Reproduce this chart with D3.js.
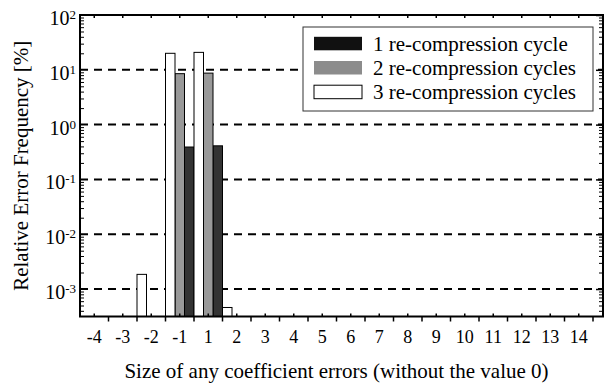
<!DOCTYPE html>
<html>
<head>
<meta charset="utf-8">
<script src="https://cdn.jsdelivr.net/npm/d3@7"></script>
<style>
  body { margin: 0; background: #fff; }
  svg text { font-family: "Liberation Serif", "Times New Roman", serif; fill: #000; }
</style>
</head>
<body>
<div class="chart"></div>
<script>
var svgWidth = 607;
var svgHeight = 383;

// chart values
var categories = ["-4", "-3", "-2", "-1", "1", "2", "3", "4", "5", "6", "7", "8", "9", "10", "11", "12", "13", "14"];
var cycle1 = [0, 0, 0, 0.39, 0.41, 0, 0, 0, 0, 0, 0, 0, 0, 0, 0, 0, 0, 0];
var cycle2 = [0, 0, 0, 8.5, 8.7, 0, 0, 0, 0, 0, 0, 0, 0, 0, 0, 0, 0, 0];
var cycle3 = [0, 0, 0.00185, 20, 20.8, 0.00046, 0, 0, 0, 0, 0, 0, 0, 0, 0, 0, 0, 0];
var seriesNames = ["1 re-compression cycle", "2 re-compression cycles", "3 re-compression cycles"];
var decades = [1e-3, 1e-2, 1e-1, 1, 10, 100];
var decadeExp = ["-3", "-2", "-1", "0", "1", "2"];

var series = [cycle1, cycle2, cycle3];
var fills = ["#333333", "#999999", "#ffffff"];
var legendFills = ["#111111", "#8c8c8c", "#ffffff"];

var plot = { left: 80, top: 15, right: 603, bottom: 316.5 };
var bandEnd = 593;

var svg = d3.select(".chart")
    .append("svg")
    .attr("width", svgWidth)
    .attr("height", svgHeight);

var x = d3.scaleBand()
    .domain(categories)
    .range([plot.left, bandEnd])
    .padding(0);

// series 3 sits left in each group, series 1 right
var xs = d3.scaleBand()
    .domain([2, 1, 0])
    .range([0, x.bandwidth()]);

var y = d3.scaleLog()
    .domain([3.15e-4, 100])
    .range([plot.bottom, plot.top]);

// minor log ticks
var minor = [];
for (var e = -4; e <= 1; e++) {
  for (var m = 2; m <= 9; m++) {
    var v = m * Math.pow(10, e);
    if (v >= y.domain()[0] && v <= 100) minor.push(v);
  }
}

// dashed grid
svg.append("g")
    .selectAll("line")
    .data(decades.filter(function(d) { return d < 100; }))
    .enter()
    .append("line")
    .attr("x1", plot.left)
    .attr("x2", plot.right)
    .attr("y1", function(d) { return y(d); })
    .attr("y2", function(d) { return y(d); })
    .attr("stroke", "#000")
    .attr("stroke-width", 2)
    .attr("stroke-dasharray", "8,6");

// bars
var barData = [];
series.forEach(function(s, si) {
  s.forEach(function(v, ci) {
    if (v > 0) barData.push({ s: si, cat: categories[ci], v: v });
  });
});

svg.append("g")
    .selectAll("rect")
    .data(barData)
    .enter()
    .append("rect")
    .attr("x", function(d) { return x(d.cat) + xs(d.s); })
    .attr("width", xs.bandwidth())
    .attr("y", function(d) { return y(d.v); })
    .attr("height", function(d) { return plot.bottom - y(d.v); })
    .attr("fill", function(d) { return fills[d.s]; })
    .attr("stroke", "#000")
    .attr("stroke-width", 1);

// bottom axis: inward ticks at centres, labels
var xAxis = d3.axisBottom(x).tickSize(-3).tickSizeOuter(0).tickPadding(14);
var gx = svg.append("g")
    .attr("transform", "translate(0," + plot.bottom + ")")
    .call(xAxis);
gx.select(".domain").remove();
gx.selectAll("line").attr("stroke-width", 1.5);
gx.selectAll("text")
    .style("font-size", "18px")
    .style("font-family", "'Liberation Serif', 'Times New Roman', serif");

// outward ticks on category boundaries
var bounds = categories.map(function(c) { return x(c); }).concat([bandEnd]).slice(1);
svg.append("g")
    .selectAll("line")
    .data(bounds)
    .enter()
    .append("line")
    .attr("x1", function(d) { return d; })
    .attr("x2", function(d) { return d; })
    .attr("y1", plot.bottom)
    .attr("y2", plot.bottom + 5)
    .attr("stroke", "#000")
    .attr("stroke-width", 1.5);

// top axis: inward ticks
var gt = svg.append("g")
    .attr("transform", "translate(0," + plot.top + ")")
    .call(d3.axisTop(x).tickSize(-3).tickSizeOuter(0).tickFormat(""));
gt.select(".domain").remove();
gt.selectAll("line").attr("stroke-width", 1.5);

// left axis ticks
var gl = svg.append("g")
    .attr("transform", "translate(" + plot.left + ",0)")
    .call(d3.axisLeft(y).tickValues(minor).tickSize(-4).tickFormat(""));
gl.select(".domain").remove();

// right axis ticks
var gr1 = svg.append("g")
    .attr("transform", "translate(" + plot.right + ",0)")
    .call(d3.axisRight(y).tickValues(minor).tickSize(-4).tickFormat(""));
gr1.select(".domain").remove();
var gr2 = svg.append("g")
    .attr("transform", "translate(" + plot.right + ",0)")
    .call(d3.axisRight(y).tickValues(decades).tickSize(-7).tickFormat(""));
gr2.select(".domain").remove();
gr2.selectAll("line").attr("stroke-width", 1.5);

// y labels 10^n
var yl = svg.append("g")
    .selectAll("text")
    .data(decades)
    .enter()
    .append("text")
    .attr("x", 76)
    .attr("y", function(d) { return y(d) + 10; })
    .attr("text-anchor", "end")
    .style("font-size", "20px");
yl.append("tspan").text("10");
yl.append("tspan")
    .attr("dy", -6)
    .style("font-size", "13px")
    .text(function(d, i) { return decadeExp[i]; });

// frame
svg.append("rect")
    .attr("x", plot.left)
    .attr("y", plot.top)
    .attr("width", plot.right - plot.left)
    .attr("height", plot.bottom - plot.top)
    .attr("fill", "none")
    .attr("stroke", "#000")
    .attr("stroke-width", 2);

// legend
var legend = svg.append("g").attr("transform", "translate(303,27)");
legend.append("rect")
    .attr("width", 290)
    .attr("height", 84)
    .attr("fill", "#fff")
    .attr("stroke", "#333")
    .attr("stroke-width", 1);
seriesNames.forEach(function(name, i) {
  var row = legend.append("g").attr("transform", "translate(0," + (23.8 + i * 24.2) + ")");
  row.append("rect")
      .attr("x", 11)
      .attr("y", -14)
      .attr("width", 48)
      .attr("height", 13.5)
      .attr("fill", legendFills[i])
      .attr("stroke", i == 2 ? "#000" : "none")
      .attr("stroke-width", 1);
  row.append("text")
      .attr("x", 70)
      .attr("y", 0)
      .style("font-size", "21px")
      .text(name);
});

// axis titles
svg.append("text")
    .attr("transform", "translate(" + ((plot.left + bandEnd) / 2) + ",378)")
    .attr("text-anchor", "middle")
    .style("font-size", "21px")
    .text("Size of any coefficient errors (without the value 0)");

svg.append("text")
    .attr("transform", "translate(28," + ((plot.top + plot.bottom) / 2) + ") rotate(-90)")
    .attr("text-anchor", "middle")
    .style("font-size", "21px")
    .text("Relative Error Frequency [%]");
</script>
</body>
</html>
